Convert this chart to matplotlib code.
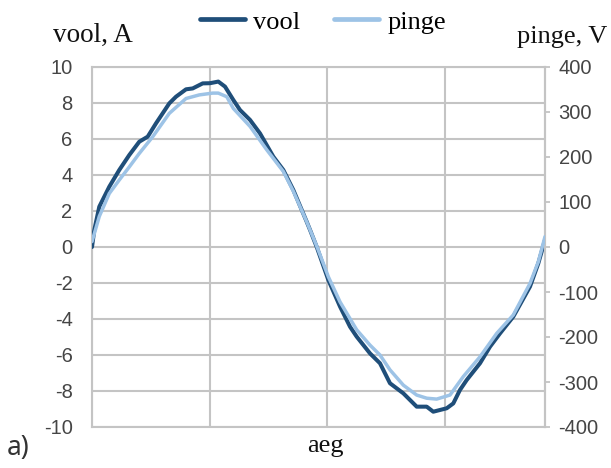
import matplotlib
matplotlib.use("Agg")
import matplotlib.pyplot as plt

# sample positions along the time axis (aeg) and the readings of both signals
t_vool = [0, 0.39, 1.24, 2.94, 4.64, 6.34, 8.04, 9.47, 10.88, 13.14, 14.28,
          15.98, 17.12, 18.82, 20.06, 21.47, 22.61, 24.02, 25.16, 26.86,
          28.56, 30.82, 32.52, 34.22, 36.5, 37.06, 38.2, 40.17, 42.16, 43.86,
          44.99, 47.25, 48.95, 50.65, 52.92, 55.19, 56.89, 58.01, 60.29,
          61.41, 62.55, 63.69, 65.95, 67.65, 69.35, 71.61, 74.45, 75.86, 77.0]
vool = [0.0, 0.94, 2.24, 3.35, 4.28, 5.11, 5.85, 6.13, 6.87, 7.98, 8.35,
        8.76, 8.81, 9.09, 9.1, 9.19, 8.91, 8.17, 7.61, 7.06,
        6.31, 5.02, 4.28, 3.17, 1.4, 0.95, 0.0, -1.83, -3.31, -4.43,
        -4.98, -5.91, -6.46, -7.57, -8.13, -8.87, -8.87, -9.15, -8.96,
        -8.69, -7.94, -7.39, -6.46, -5.54, -4.8, -3.87, -2.2, -0.91, 0.39]

t_pinge = [0, 1.24, 2.94, 4.64, 6.34, 8.04, 10.32, 13.14, 15.98, 18.24,
           20.52, 21.47, 22.9, 24.02, 26.86, 29.7, 32.52, 34.22, 36.5, 38.2,
           40.17, 42.16, 44.99, 47.25, 48.95, 50.65, 52.92, 55.19, 56.89,
           58.58, 60.85, 63.11, 65.95, 68.79, 71.61, 74.45, 75.86, 77.0]
pinge = [12, 68, 119, 149, 178, 208, 245, 297, 330, 338,
         342, 342, 334, 308, 268, 216, 168, 124, 56, 2,
         -66, -122, -184, -218, -240, -273, -307, -329, -336,
         -338, -329, -288, -244, -192, -151, -81, -33, 23]

left_ticks = list(range(-10, 11, 2))
right_ticks = list(range(-400, 401, 100))
x_grid = [0, 20, 40, 60]

dark = "#1f4e79"
light = "#9dc3e6"
grid_c = "#c4c4c4"
tick_c = "#454545"
serif = "Liberation Serif"
sans = "Liberation Sans"

fig = plt.figure(figsize=(6.11, 4.68), dpi=100)
ax = fig.add_axes([92 / 611, 1 - 427 / 468, (545 - 92) / 611, (427 - 67) / 468])
ax2 = ax.twinx()

l1, = ax.plot(t_vool, vool, color=dark, lw=2.9, solid_capstyle="round",
              solid_joinstyle="round", zorder=3)
l2, = ax2.plot(t_pinge, pinge, color=light, lw=2.5, solid_capstyle="round",
               solid_joinstyle="round", zorder=3)

ax.set_xlim(0, 77)
ax.set_ylim(-10, 10)
ax2.set_ylim(-400, 400)
ax.set_xticks(x_grid)
ax.set_xticklabels([])
ax.tick_params(axis="x", length=0)
ax.set_yticks(left_ticks)
ax.set_yticklabels([str(v) for v in left_ticks], fontfamily=sans,
                   fontsize=14.5, color=tick_c)
ax.tick_params(axis="y", length=0, pad=14)
ax2.set_yticks(right_ticks)
ax2.set_yticklabels([str(v) for v in right_ticks], fontfamily=sans,
                    fontsize=14.5, color=tick_c)
ax2.tick_params(axis="y", length=3.8, width=1.3, color=grid_c, pad=6)

ax.grid(True, color=grid_c, lw=1.5)
ax.set_axisbelow(True)
for s in ax.spines.values():
    s.set_color(grid_c)
    s.set_linewidth(1.5)
for name, s in ax2.spines.items():
    s.set_visible(name == "right")
    s.set_color(grid_c)
    s.set_linewidth(1.5)

fig.text(53 / 611, 1 - 42 / 468, "vool, A", fontfamily=serif, fontsize=19.5,
         color="#111111", ha="left", va="baseline")
fig.text(607 / 611, 1 - 43 / 468, "pinge, V", fontfamily=serif, fontsize=19,
         color="#111111", ha="right", va="baseline")
fig.text(325 / 611, 1 - 452 / 468, "aeg", fontfamily=serif, fontsize=19,
         color="#111111", ha="center", va="baseline")
fig.text(7 / 611, 1 - 455 / 468, "a)", fontfamily="Noto Sans", fontsize=19,
         color="#333333", ha="left", va="baseline")

fig.legend([l1, l2], ["vool", "pinge"], loc="center",
           bbox_to_anchor=(323 / 611, 1 - 22 / 468), ncol=2, frameon=False,
           prop={"family": serif, "size": 19}, handlelength=1.7,
           handletextpad=0.3, columnspacing=1.3, borderpad=0.1)
for h in fig.legends[0].get_lines():
    h.set_linewidth(3.4)

fig.savefig("out.png", dpi=100)
